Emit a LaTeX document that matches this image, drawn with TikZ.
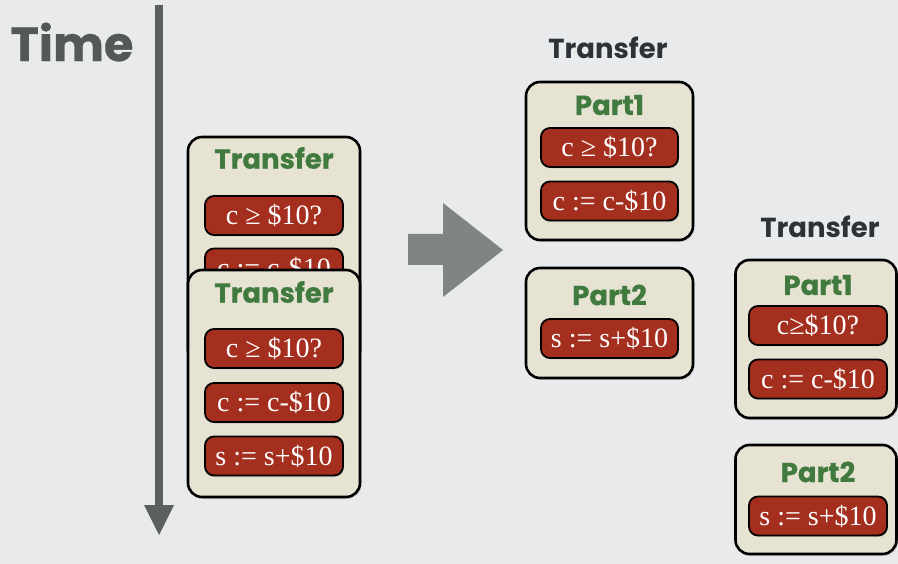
\documentclass[tikz,border=0pt]{standalone}
\usepackage{fontspec}
\setmainfont{Liberation Serif}
\newfontfamily\hfont{Poppins}[BoldFeatures={FakeBold=0.6}]
\newfontfamily\hfontplain{Poppins}
\usetikzlibrary{shadows}
\definecolor{bgc}{HTML}{E8EAEC}
\definecolor{beige}{HTML}{E6E3D3}
\definecolor{itemred}{HTML}{A52F1E}
\definecolor{titlegreen}{HTML}{417A3F}
\definecolor{headdark}{HTML}{2C3238}
\definecolor{timegrey}{HTML}{555858}
\definecolor{arrowgrey}{HTML}{5B605F}
\definecolor{midgrey}{HTML}{7E8582}
\begin{document}
\begin{tikzpicture}[x=1pt,y=-1pt,
  box/.style={draw=black, line width=2.6pt, fill=beige, rounded corners=14pt,
    drop shadow={opacity=0.25, shadow xshift=1.5pt, shadow yshift=-2pt},
    inner sep=0pt, outer sep=0pt},
  item/.style={draw=black, line width=1.8pt, fill=itemred, rounded corners=9pt,
    text=white, font=\fontsize{28}{28}\selectfont,
    drop shadow={opacity=0.3, shadow xshift=1pt, shadow yshift=-1.5pt},
    minimum width=138pt, minimum height=39pt, inner sep=0pt},
  boxtitle/.style={text=titlegreen, font=\hfont\bfseries\fontsize{27.5}{27.5}\selectfont, inner sep=0pt},
  heading/.style={text=headdark, font=\hfontplain\bfseries\fontsize{27.5}{27.5}\selectfont, inner sep=0pt}]
\useasboundingbox (0,0) rectangle (898,564);
\fill[bgc] (0,0) rectangle (898,564);

% Time label and arrow
\node[text=timegrey, font=\hfont\bfseries\fontsize{48}{48}\selectfont, inner sep=0pt] (time) at (72,42) {Time};
\coordinate (ttop) at (159,5);
\coordinate (tend) at (159,506);
\draw[arrowgrey, line width=8pt] (ttop) -- (tend);
\fill[arrowgrey] (144,505) -- (174,505) -- (159,535) -- cycle;

% Left: first transfer
\node[box, minimum width=172pt, minimum height=227pt] (L1) at (274,250.5) {};
\node[boxtitle] (L1t) at (274,158) {Transfer};
\node[item] (L1a) at (274,215.5) {c ≥ \$10?};
\node[item] (L1b) at (274,268) {c := c-\$10};

% Left: second transfer
\node[box, minimum width=172pt, minimum height=227pt] (L2) at (274,383.5) {};
\node[boxtitle] (L2t) at (274,292) {Transfer};
\node[item] (L2a) at (274,348.5) {c ≥ \$10?};
\node[item] (L2b) at (274,402.5) {c := c-\$10};
\node[item] (L2c) at (274,456) {s := s+\$10};

% Middle arrow
\fill[midgrey] (408,234) -- (443,234) -- (443,203) -- (503,250) -- (443,297) -- (443,265) -- (408,265) -- cycle;

% Middle transfer
\node[heading] (Mh) at (608,48) {Transfer};
\node[box, minimum width=167pt, minimum height=158pt] (M1) at (609.5,161) {};
\node[boxtitle] (M1t) at (609.5,105) {Part1};
\node[item, minimum width=137pt] (M1a) at (609.5,147.5) {c ≥ \$10?};
\node[item, minimum width=137pt] (M1b) at (609.5,201) {c := c-\$10};
\node[box, minimum width=167pt, minimum height=110pt] (M2) at (609.5,323) {};
\node[boxtitle] (M2t) at (609.5,295) {Part2};
\node[item, minimum width=137pt] (M2a) at (609.5,338.5) {s := s+\$10};

% Right transfer
\node[heading] (Rh) at (820,227) {Transfer};
\node[box, minimum width=161pt, minimum height=158pt] (R1) at (816,339) {};
\node[boxtitle] (R1t) at (818,285) {Part1};
\node[item] (R1a) at (818,325.5) {c≥\$10?};
\node[item] (R1b) at (818,379) {c := c-\$10};
\node[box, minimum width=161pt, minimum height=109pt] (R2) at (816,499.5) {};
\node[boxtitle] (R2t) at (818,472) {Part2};
\node[item] (R2a) at (818,516) {s := s+\$10};
\end{tikzpicture}
\end{document}
